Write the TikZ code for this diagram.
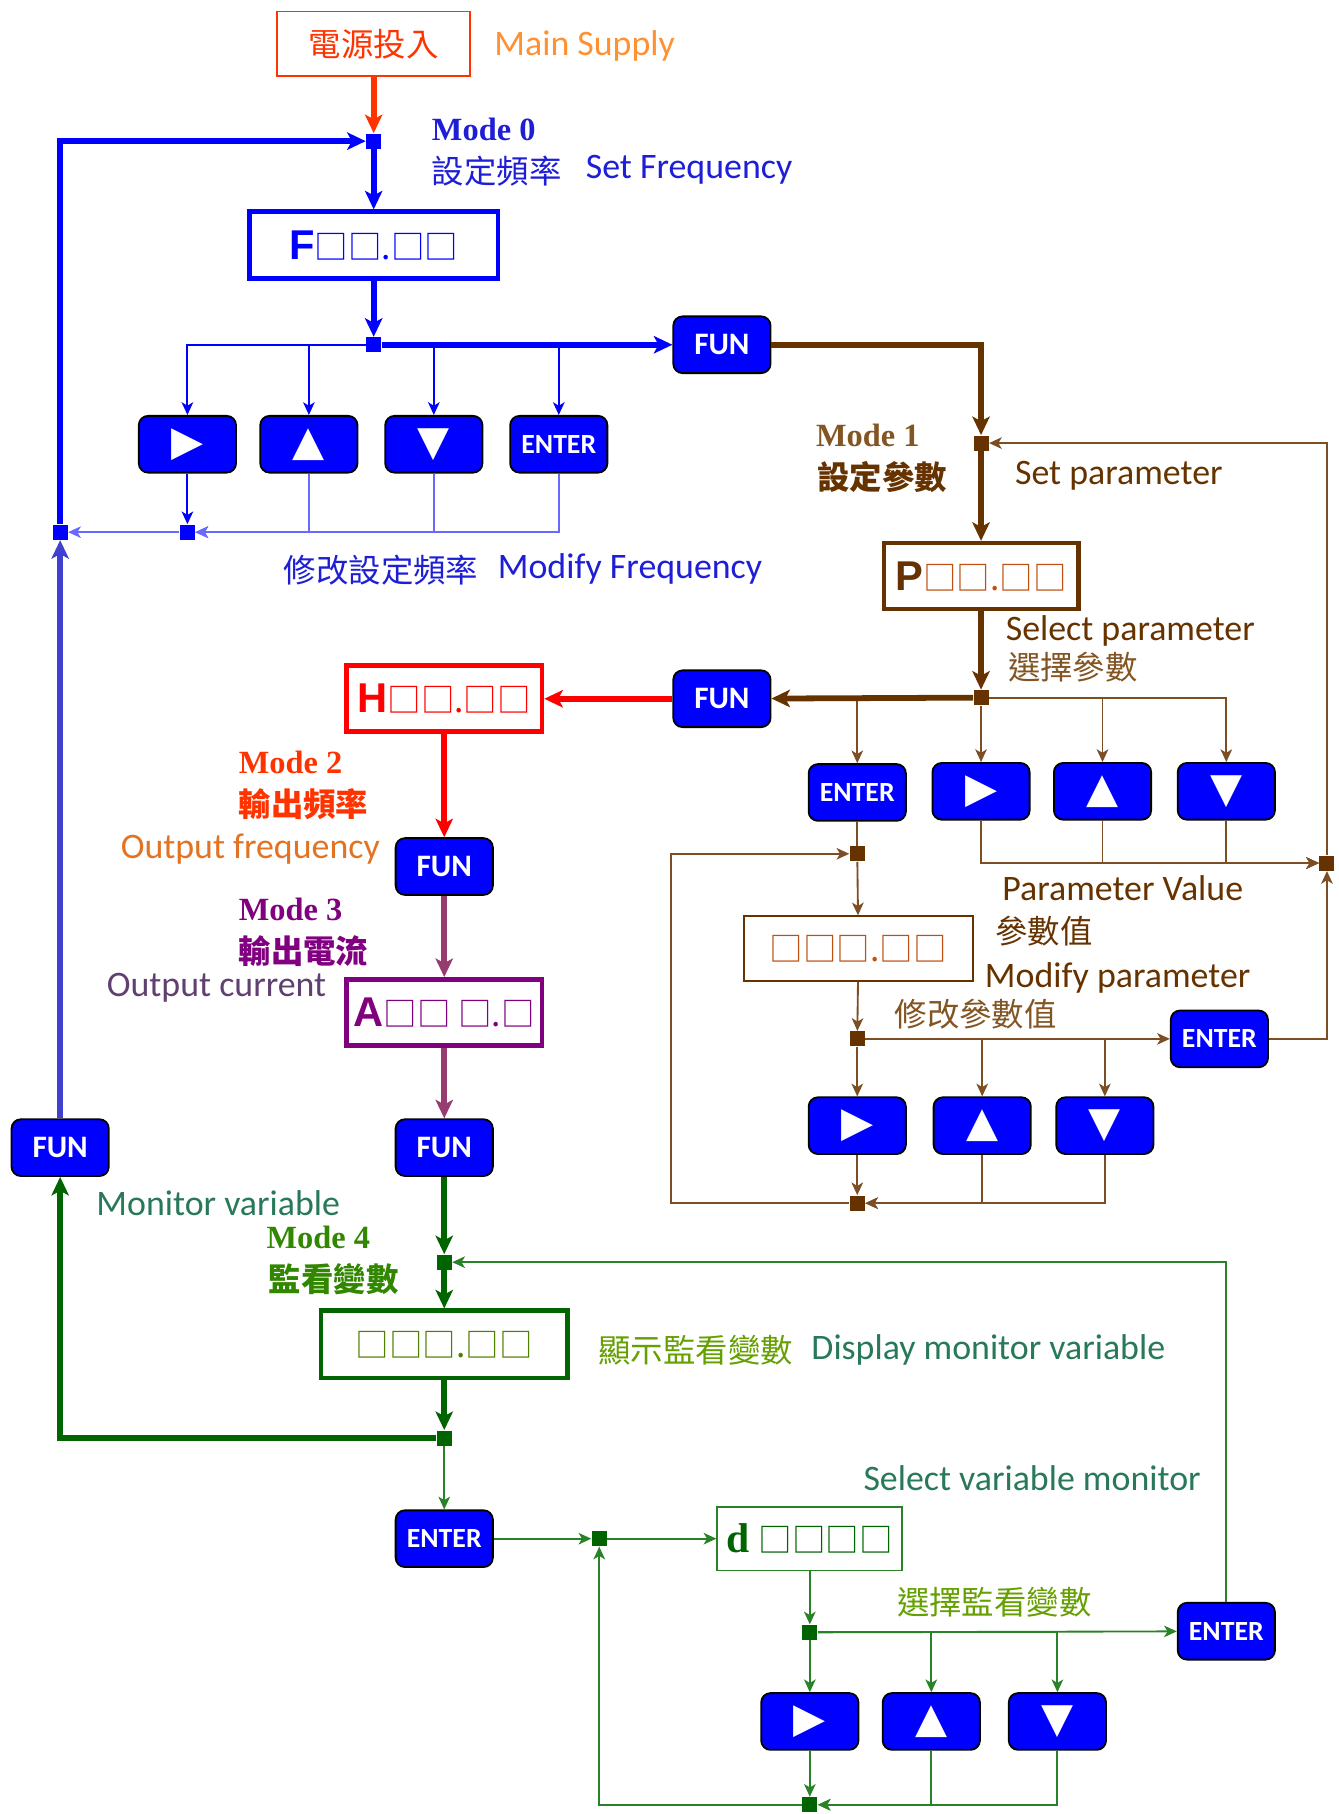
\documentclass[tikz,border=0pt]{standalone}
\usepackage{fontspec}
\setmainfont{Liberation Serif}
\newfontfamily\enf{Carlito}
\newfontfamily\cjk{Noto Sans CJK TC}
\newfontfamily\symf{DejaVu Sans}
\newfontfamily\segf{Liberation Sans}
\usepackage{tikz}
\usetikzlibrary{arrows.meta}

\definecolor{keyblue}{RGB}{0,0,255}
\definecolor{fblue}{RGB}{0,0,255}
\definecolor{loopblue}{RGB}{64,64,208}
\definecolor{paleblue}{RGB}{105,105,255}
\definecolor{txtblue}{RGB}{30,30,215}
\definecolor{pbrown}{RGB}{102,51,0}
\definecolor{tbrown}{RGB}{125,78,35}
\definecolor{lbrown}{RGB}{130,85,35}
\definecolor{sqbrown}{RGB}{190,80,20}
\definecolor{hred}{RGB}{255,0,0}
\definecolor{pwrred}{RGB}{255,51,0}
\definecolor{orng}{RGB}{255,145,50}
\definecolor{ofreq}{RGB}{225,115,35}
\definecolor{apurple}{RGB}{128,0,128}
\definecolor{amauve}{RGB}{150,60,110}
\definecolor{curgrey}{RGB}{96,64,112}
\definecolor{dgreen}{RGB}{0,100,0}
\definecolor{mgreen}{RGB}{40,130,40}
\definecolor{tgreen}{RGB}{40,120,90}
\definecolor{ygreen}{RGB}{50,135,0}
\definecolor{ogreen}{RGB}{100,160,0}

\tikzstyle{keybox} = [draw=black, fill=keyblue, rounded corners=4pt, line width=0.8pt, inner sep=0pt, minimum width=42pt, minimum height=24.5pt, text=white, font=\enf\bfseries\fontsize{13.5}{14}\selectfont]
\tikzstyle{jct} = [rectangle, inner sep=0pt, minimum size=6.5pt]
\tikzstyle{bigflow} = [line width=2.5pt, >={Stealth[length=8pt,width=7.5pt,inset=2pt]}]
\tikzstyle{smallflow} = [line width=0.8pt, >={Stealth[length=5.5pt,width=5pt,inset=1.5pt]}]
\tikzstyle{lcd} = [inner sep=0pt, font=\fontsize{14.5}{15}\selectfont]
\tikzstyle{lbl} = [anchor=west, inner sep=0pt, font=\enf\fontsize{15.5}{16}\selectfont]
\tikzstyle{han} = [anchor=west, inner sep=0pt, font=\cjk\fontsize{14}{16}\selectfont]
\tikzstyle{modelbl} = [anchor=west, inner sep=0pt, font=\bfseries\fontsize{14}{16}\selectfont]

\newcommand{\tri}[1]{{\symf\fontsize{18}{18}\selectfont #1}}
\newcommand{\sqs}[1]{{\cjk #1}}
\newcommand{\seg}[1]{{\segf\bfseries\fontsize{18}{18}\selectfont #1}}

\begin{document}
\begin{tikzpicture}[x=0.5pt, y=-0.5pt]
			\useasboundingbox (0,0) rectangle (1157,1568);
			\node[draw=pwrred, line width=0.8pt, minimum width=83.5pt, minimum height=28pt, text=pwrred, font=\cjk\fontsize{14}{16}\selectfont] (power) at (323,38) {電源投入};
			\node[draw=fblue, line width=2pt, minimum width=107.5pt, minimum height=29pt, lcd, text=fblue] (fbox) at (323,212) {\seg{F}\sqs{□□.□□}};
			\node[draw=pbrown, line width=2pt, minimum width=84pt, minimum height=28.5pt, lcd, text=sqbrown] (pbox) at (848,498) {{\color{pbrown}\seg{P}}\sqs{□□.□□}};
			\node[draw=hred, line width=2pt, minimum width=84.5pt, minimum height=28.5pt, lcd, text=hred] (hbox) at (384,604) {\seg{H}\sqs{□□.□□}};
			\node[draw=apurple, line width=2pt, minimum width=84.5pt, minimum height=28.5pt, lcd, text=apurple] (abox) at (384,875) {\seg{A}\sqs{□□ □.□}};
			\node[draw=pbrown, line width=0.8pt, minimum width=99pt, minimum height=28pt, lcd, text=sqbrown] (valbox) at (742,820) {\sqs{□□□.□□}};
			\node[draw=dgreen, line width=2pt, minimum width=106.5pt, minimum height=29pt, lcd, text=ogreen!80!black] (dispbox) at (384,1162) {\sqs{□□□.□□}};
			\node[draw=mgreen, line width=0.8pt, minimum width=80pt, minimum height=27.5pt, lcd, text=dgreen] (dbox) at (700,1330) {{\bfseries\fontsize{18}{18}\selectfont d} \sqs{□□□□}};

			\node[keybox] (fun1) at (624,298) {FUN};
			\node[keybox] (k1a) at (162,384) {\tri{▶}};
			\node[keybox] (k1b) at (267,384) {\tri{▲}};
			\node[keybox] (k1c) at (375,384) {\tri{▼}};
			\node[keybox, font=\enf\bfseries\fontsize{12}{12}\selectfont] (k1d) at (483,384) {ENTER};
			\node[keybox] (fun2) at (624,604) {FUN};
			\node[keybox, font=\enf\bfseries\fontsize{12}{12}\selectfont] (k2a) at (741,685) {ENTER};
			\node[keybox] (k2b) at (848,684) {\tri{▶}};
			\node[keybox] (k2c) at (953,684) {\tri{▲}};
			\node[keybox] (k2d) at (1060,684) {\tri{▼}};
			\node[keybox, font=\enf\bfseries\fontsize{12}{12}\selectfont] (ent3) at (1054,898) {ENTER};
			\node[keybox] (k3a) at (741,973) {\tri{▶}};
			\node[keybox] (k3b) at (849,973) {\tri{▲}};
			\node[keybox] (k3c) at (955,973) {\tri{▼}};
			\node[keybox] (fun3) at (384,749) {FUN};
			\node[keybox] (fun4) at (384,992) {FUN};
			\node[keybox] (fun5) at (52,992) {FUN};
			\node[keybox, font=\enf\bfseries\fontsize{12}{12}\selectfont] (ent4) at (384,1330) {ENTER};
			\node[keybox, font=\enf\bfseries\fontsize{12}{12}\selectfont] (ent5) at (1060,1410) {ENTER};
			\node[keybox] (k4a) at (700,1488) {\tri{▶}};
			\node[keybox] (k4b) at (805,1488) {\tri{▲}};
			\node[keybox] (k4c) at (914,1488) {\tri{▼}};

			\node[jct, fill=fblue] (j0) at (323,122) {};
			\node[jct, fill=fblue] (j1) at (323,298) {};
			\node[jct, fill=fblue] (j2) at (162,460) {};
			\node[jct, fill=fblue] (j3) at (52,460) {};
			\node[jct, fill=pbrown] (j4) at (848,383) {};
			\node[jct, fill=pbrown] (j5) at (848,603) {};
			\node[jct, fill=pbrown] (j6) at (1147,746) {};
			\node[jct, fill=pbrown] (j7) at (741,738) {};
			\node[jct, fill=pbrown] (j8) at (741,898) {};
			\node[jct, fill=pbrown] (j9) at (741,1040) {};
			\node[jct, fill=dgreen] (j10) at (384,1091) {};
			\node[jct, fill=dgreen] (j11) at (384,1243) {};
			\node[jct, fill=dgreen] (j12) at (518,1330) {};
			\node[jct, fill=dgreen] (j13) at (700,1411) {};
			\node[jct, fill=dgreen] (j14) at (700,1560) {};
			\coordinate (c1) at (580,1040);

			\node[lbl, text=orng] (mainsup) at (427,40) {Main Supply};
			\node[modelbl, text=txtblue] (mode0) at (373,112) {Mode 0};
			\node[han, text=txtblue] (setfreqc) at (373,148) {設定頻率};
			\node[lbl, text=txtblue] (setfreq) at (506,147) {Set Frequency};
			\node[han, text=txtblue] (modfreqc) at (245,493) {修改設定頻率};
			\node[lbl, text=txtblue] (modfreq) at (430,492) {Modify Frequency};
			\node[modelbl, text=lbrown] (mode1) at (705,376) {Mode 1};
			\node[han, text=pbrown, font=\cjk\bfseries\fontsize{14}{16}\selectfont] (setparc) at (706,412) {設定參數};
			\node[lbl, text=pbrown] (setpar) at (877,411) {Set parameter};
			\node[lbl, text=pbrown] (selpar) at (869,545) {Select parameter};
			\node[han, text=lbrown] (selparc) at (871,577) {選擇參數};
			\node[lbl, text=pbrown] (parval) at (866,768) {Parameter Value};
			\node[han, text=pbrown] (parvalc) at (860,805) {參數值};
			\node[lbl, text=pbrown] (modpar) at (851,845) {Modify parameter};
			\node[han, text=lbrown] (modparc) at (773,877) {修改參數值};
			\node[modelbl, text=pwrred] (mode2) at (206,659) {Mode 2};
			\node[han, text=pwrred, font=\cjk\bfseries\fontsize{14}{16}\selectfont] (ofreqc) at (206,695) {輸出頻率};
			\node[lbl, text=ofreq] (ofreq) at (104,734) {Output frequency};
			\node[modelbl, text=apurple] (mode3) at (206,786) {Mode 3};
			\node[han, text=apurple, font=\cjk\bfseries\fontsize{14}{16}\selectfont] (ocurc) at (206,822) {輸出電流};
			\node[lbl, text=curgrey] (ocur) at (92,854) {Output current};
			\node[lbl, text=tgreen] (monvar) at (83,1040) {Monitor variable};
			\node[modelbl, text=ygreen] (mode4) at (230,1070) {Mode 4};
			\node[han, text=ygreen, font=\cjk\bfseries\fontsize{14}{16}\selectfont] (monvarc) at (232,1106) {監看變數};
			\node[han, text=ogreen] (dispc) at (517,1167) {顯示監看變數};
			\node[lbl, text=tgreen] (disp) at (701,1167) {Display monitor variable};
			\node[lbl, text=tgreen] (selmon) at (746,1278) {Select variable monitor};
			\node[han, text=ogreen] (selmonc) at (775,1385) {選擇監看變數};

			\draw[smallflow, fblue, ->] (j1) -| (k1a);
			\draw[smallflow, fblue, ->] (j1) -| (k1b);
			\draw[smallflow, fblue, ->] (j1) -| (k1c);
			\draw[smallflow, fblue, ->] (j1) -| (k1d);
			\draw[smallflow, fblue, ->] (k1a) -- (j2);
			\draw[smallflow, paleblue, ->] (k1b) |- (j2);
			\draw[smallflow, paleblue, ->] (k1c) |- (j2);
			\draw[smallflow, paleblue, ->] (k1d) |- (j2);
			\draw[smallflow, paleblue, ->] (j2) -- (j3);
			\draw[bigflow, pwrred, ->] (power) -- (j0);
			\draw[bigflow, fblue, ->] (j0) -- (fbox);
			\draw[bigflow, fblue, ->] (fbox) -- (j1);
			\draw[bigflow, fblue, ->] (j1) -- (fun1);
			\draw[bigflow, fblue, ->] (j3) |- (j0);
			\draw[bigflow, loopblue, ->] (fun5) -- (j3);

			\draw[smallflow, tbrown, ->] (j5) -| (k2a);
			\draw[smallflow, tbrown, ->] (j5) -- (k2b);
			\draw[smallflow, tbrown, ->] (j5) -| (k2c);
			\draw[smallflow, tbrown, ->] (j5) -| (k2d);
			\draw[smallflow, tbrown, ->] (k2b) |- (j6);
			\draw[smallflow, tbrown, ->] (k2c) |- (j6);
			\draw[smallflow, tbrown, ->] (k2d) |- (j6);
			\draw[smallflow, tbrown, ->] (j6) |- (j4);
			\draw[smallflow, tbrown] (k2a) -- (j7);
			\draw[smallflow, tbrown, ->] (j7) -- (valbox);
			\draw[smallflow, tbrown, ->] (valbox) -- (j8);
			\draw[smallflow, tbrown, ->] (j8) -- (ent3);
			\draw[smallflow, tbrown, ->] (ent3) -| (j6);
			\draw[smallflow, tbrown, ->] (j8) -- (k3a);
			\draw[smallflow, tbrown, ->] (j8) -| (k3b);
			\draw[smallflow, tbrown, ->] (j8) -| (k3c);
			\draw[smallflow, tbrown, ->] (k3a) -- (j9);
			\draw[smallflow, tbrown, ->] (k3b) |- (j9);
			\draw[smallflow, tbrown, ->] (k3c) |- (j9);
			\draw[smallflow, tbrown, ->] (j9) -- (c1) |- (j7);
			\draw[bigflow, pbrown, ->] (fun1) -| (j4);
			\draw[bigflow, pbrown, ->] (j4) -- (pbox);
			\draw[bigflow, pbrown, ->] (pbox) -- (j5);
			\draw[bigflow, pbrown, ->] (j5) -- (fun2);

			\draw[bigflow, hred, ->] (fun2) -- (hbox);
			\draw[bigflow, hred, ->] (hbox) -- (fun3);
			\draw[bigflow, amauve, ->] (fun3) -- (abox);
			\draw[bigflow, amauve, ->] (abox) -- (fun4);

			\draw[bigflow, dgreen, ->] (fun4) -- (j10);
			\draw[bigflow, dgreen, ->] (j10) -- (dispbox);
			\draw[bigflow, dgreen, ->] (dispbox) -- (j11);
			\draw[bigflow, dgreen, ->] (j11) -| (fun5);
			\draw[smallflow, mgreen, ->] (j11) -- (ent4);
			\draw[smallflow, mgreen, ->] (ent4) -- (j12);
			\draw[smallflow, mgreen, ->] (j12) -- (dbox);
			\draw[smallflow, mgreen, ->] (dbox) -- (j13);
			\draw[smallflow, mgreen, ->] (j13) -- (ent5);
			\draw[smallflow, mgreen, ->] (j13) -- (k4a);
			\draw[smallflow, mgreen, ->] (j13) -| (k4b);
			\draw[smallflow, mgreen, ->] (j13) -| (k4c);
			\draw[smallflow, mgreen, ->] (k4a) -- (j14);
			\draw[smallflow, mgreen, ->] (k4b) |- (j14);
			\draw[smallflow, mgreen, ->] (k4c) |- (j14);
			\draw[smallflow, mgreen, ->] (j14) -| (j12);
			\draw[smallflow, mgreen, ->] (ent5) |- (j10);

		\end{tikzpicture}
\end{document}
